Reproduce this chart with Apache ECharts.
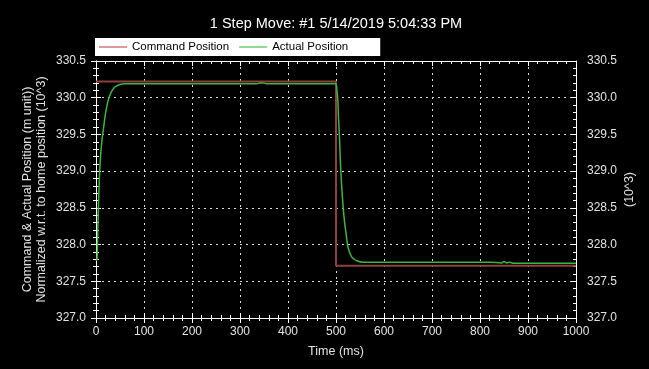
<!DOCTYPE html>
<html>
<head>
<meta charset="utf-8">
<script src="https://cdn.jsdelivr.net/npm/echarts@6/dist/echarts.min.js"></script>
<style>
  html, body { margin: 0; padding: 0; background: #000; }
  #chart { width: 649px; height: 369px; }
</style>
</head>
<body>
<div id="chart"></div>
<script>
// Step move record: commanded vs. measured position over one second
const chartTitle = '1 Step Move: #1 5/14/2019 5:04:33 PM';
const seriesNames = ['Command Position', 'Actual Position'];

// Command profile (ms, position x10^3)
const commandTime = [0, 500, 500, 1000];
const commandPos = [330.22, 330.22, 327.71, 327.71];

// Measured position (ms, position x10^3)
const actualTime = [0, 2, 3, 5, 7, 9, 12, 15, 19, 23, 27, 32, 37, 43, 50, 60, 80, 150, 250, 335, 342, 348, 355, 420, 498,
  500, 502, 504, 505, 507, 510, 515, 518, 521, 524, 528, 533, 538, 543, 556, 620, 720, 820, 845, 850, 856, 862, 870, 900, 1000];
const actualPos = [327.78, 327.8, 328.0, 328.5, 328.9, 329.15, 329.4, 329.55, 329.75, 329.9, 330.0, 330.08, 330.13, 330.16, 330.18, 330.19, 330.19, 330.19, 330.19, 330.19, 330.2, 330.2, 330.19, 330.19, 330.19,
  330.19, 330.1, 329.95, 329.75, 329.5, 329.0, 328.5, 328.3, 328.15, 328.0, 327.9, 327.83, 327.8, 327.78, 327.76, 327.76, 327.76, 327.76, 327.75, 327.77, 327.75, 327.76, 327.745, 327.745, 327.745];

// Axis scales: [min, max, major step]
const xScale = [0, 1000, 100];
const yScale = [327.0, 330.5, 0.5];
const xName = 'Time (ms)';
const yNameLeft = 'Command & Actual Position (m unit))\nNormalized w.r.t. to home position (10^3)';
const yNameRight = '(10^3)';

const FONT = '"Liberation Sans", Arial, sans-serif';
const LABEL = '#e2e2e2';
const AXIS = '#ffffff';

const pairs = (xs, ys) => xs.map((x, i) => [x, ys[i]]);

function baseAxis(scale) {
  return {
    type: 'value',
    min: scale[0], max: scale[1], interval: scale[2],
    gridIndex: 0,
    axisLine: { show: true, onZero: false, lineStyle: { color: AXIS, width: 1 } },
    axisTick: { show: true, inside: true, length: 5, lineStyle: { color: AXIS } },
    minorTick: { show: true, splitNumber: 5, length: 3, lineStyle: { color: AXIS } },
    axisLabel: { show: false },
    splitLine: { show: false },
    minorSplitLine: { show: false }
  };
}

const dotted = { show: true, lineStyle: { color: '#d8d8d8', width: 1, type: [2, 4] } };

const chart = echarts.init(document.getElementById('chart'), null, { renderer: 'canvas' });
chart.setOption({
  backgroundColor: '#000',
  animation: false,
  title: {
    text: chartTitle,
    left: 331, top: 11, textAlign: 'center',
    textStyle: { color: '#fff', fontSize: 14.5, fontWeight: 'normal', fontFamily: FONT }
  },
  legend: {
    left: 95, top: 38,
    backgroundColor: '#fff',
    padding: [3, 32, 3, 4],
    itemWidth: 28, itemHeight: 1.5, itemGap: 10,
    icon: 'rect',
    textStyle: { color: '#000', fontSize: 11.5, fontFamily: FONT },
    data: [
      { name: seriesNames[0], itemStyle: { color: '#d47a7a' } },
      { name: seriesNames[1], itemStyle: { color: '#6fcf6f' } }
    ]
  },
  grid: { left: 96, right: 73, top: 61, bottom: 51, containLabel: false },
  xAxis: [
    Object.assign(baseAxis(xScale), {
      position: 'bottom',
      axisTick: { show: true, inside: false, length: 5, lineStyle: { color: AXIS } },
      minorTick: { show: true, splitNumber: 5, length: 3, lineStyle: { color: AXIS } },
      axisLabel: { show: true, color: LABEL, fontSize: 12, fontFamily: FONT, margin: 8,
        formatter: v => String(v) },
      splitLine: dotted,
      name: xName, nameLocation: 'middle', nameGap: 27, nameMoveOverlap: false,
      nameTextStyle: { color: LABEL, fontSize: 12.5, fontFamily: FONT }
    }),
    Object.assign(baseAxis(xScale), { position: 'bottom' }),
    Object.assign(baseAxis(xScale), { position: 'top' })
  ],
  yAxis: [
    Object.assign(baseAxis(yScale), {
      position: 'left',
      axisTick: { show: true, inside: false, length: 5, lineStyle: { color: AXIS } },
      minorTick: { show: true, splitNumber: 5, length: 3, lineStyle: { color: AXIS } },
      axisLabel: { show: true, color: LABEL, fontSize: 12, fontFamily: FONT, margin: 10,
        formatter: v => v.toFixed(1) },
      splitLine: dotted,
      name: yNameLeft, nameLocation: 'middle', nameGap: 47, nameRotate: 90, nameMoveOverlap: false,
      nameTextStyle: { color: LABEL, fontSize: 12.5, lineHeight: 14, fontFamily: FONT, align: 'center' }
    }),
    Object.assign(baseAxis(yScale), { position: 'left' }),
    Object.assign(baseAxis(yScale), {
      position: 'right',
      axisLabel: { show: true, color: LABEL, fontSize: 12, fontFamily: FONT, margin: 11,
        formatter: v => v.toFixed(1) },
      name: yNameRight, nameLocation: 'middle', nameGap: 47, nameRotate: 90, nameMoveOverlap: false,
      nameTextStyle: { color: LABEL, fontSize: 12.5, lineHeight: 14, fontFamily: FONT }
    })
  ],
  series: [
    {
      name: seriesNames[0], type: 'line', xAxisIndex: 0, yAxisIndex: 0,
      data: pairs(commandTime, commandPos),
      showSymbol: false, symbol: 'none',
      lineStyle: { color: '#8e3f3f', width: 2 },
      itemStyle: { color: '#8e3f3f' }
    },
    {
      name: seriesNames[1], type: 'line', xAxisIndex: 0, yAxisIndex: 0,
      data: pairs(actualTime, actualPos),
      showSymbol: false, symbol: 'none', smooth: 0.3,
      lineStyle: { color: '#3fb43f', width: 1.5 },
      itemStyle: { color: '#3fb43f' }
    }
  ]
});
</script>
</body>
</html>
